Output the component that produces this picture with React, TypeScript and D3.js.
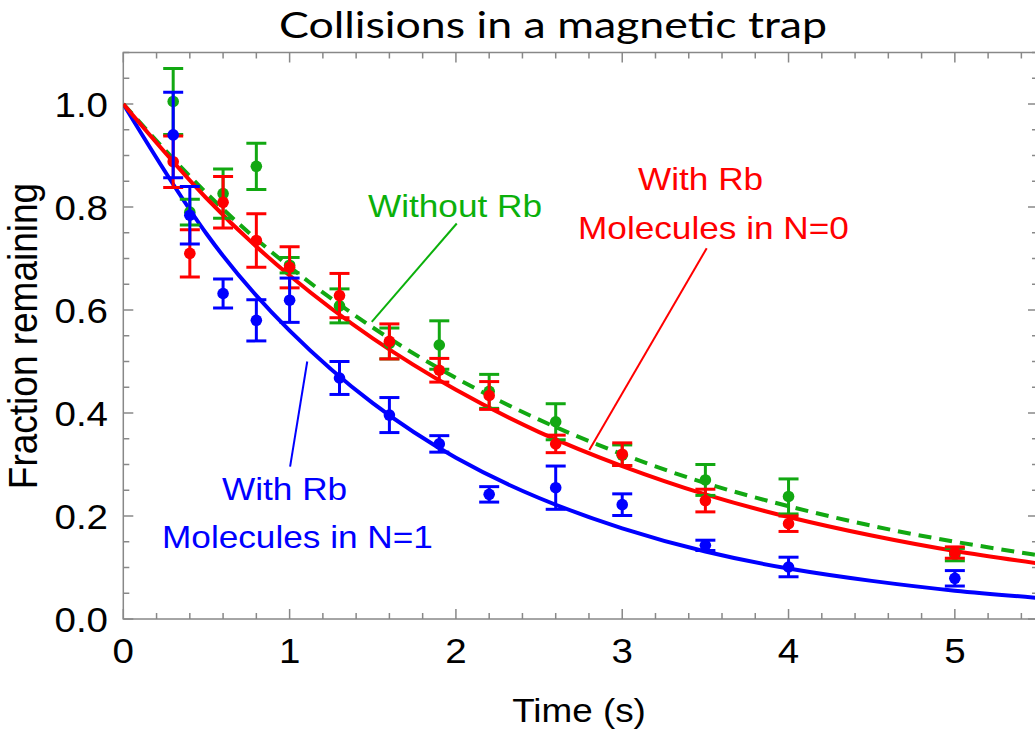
import React from "react";
import * as d3 from "d3";

// ---- data ----
const times = [0.3, 0.4, 0.6, 0.8, 1.0, 1.3, 1.6, 1.9, 2.2, 2.6, 3.0, 3.5, 4.0, 5.0];

const greenValues = [1.005, 0.79, 0.826, 0.879, 0.687, 0.608, 0.535, 0.532, 0.442, 0.383, 0.318, 0.27, 0.238, 0.125];
const greenErrors = [0.064, 0.025, 0.048, 0.045, 0.015, 0.033, 0.03, 0.047, 0.033, 0.035, 0.02, 0.03, 0.034, 0.012];

const redValues = [0.888, 0.71, 0.809, 0.735, 0.683, 0.628, 0.539, 0.483, 0.434, 0.34, 0.32, 0.23, 0.185, 0.129];
const redErrors = [0.05, 0.046, 0.05, 0.052, 0.04, 0.043, 0.034, 0.023, 0.027, 0.017, 0.022, 0.022, 0.015, 0.011];

const blueValues = [0.94, 0.784, 0.632, 0.58, 0.619, 0.468, 0.396, 0.34, 0.242, 0.255, 0.222, 0.143, 0.101, 0.079];
const blueErrors = [0.083, 0.056, 0.028, 0.04, 0.043, 0.032, 0.034, 0.016, 0.015, 0.042, 0.021, 0.01, 0.019, 0.015];

// fitted curves
const curveTimes = [0, 0.5, 1, 1.5, 2, 2.5, 3, 3.5, 4, 4.5, 5, 5.5];
const blueFit = [1, 0.748, 0.56, 0.419, 0.313, 0.235, 0.176, 0.131, 0.098, 0.074, 0.055, 0.041];
const greenFit = [1, 0.827, 0.684, 0.566, 0.468, 0.387, 0.32, 0.264, 0.219, 0.181, 0.15, 0.124];
const redFit = [1, 0.817, 0.667, 0.545, 0.445, 0.363, 0.297, 0.242, 0.198, 0.162, 0.132, 0.108];

const xMajorTicks = [0, 1, 2, 3, 4, 5];
const yMajorTicks = [0, 0.2, 0.4, 0.6, 0.8, 1.0];

const TITLE = "Collisions in a magnetic trap";
const X_LABEL = "Time (s)";
const Y_LABEL = "Fraction remaining";

const W = 1035;
const H = 733;
const SX = 1.1; // horizontal stretch of the original picture

const GREEN = "#12a812";
const GREEN_TXT = "#0bb00b";
const RED = "#ff0000";
const BLUE = "#0000ff";
const AXIS = "#888888";

const x = d3.scaleLinear().domain([0, 5.5]).range([123.3, 1038]);
const y = d3.scaleLinear().domain([0, 1.1]).range([619, 52.5]);

const FONT = "'Liberation Sans', Arial, sans-serif";

function STxt(props: {
  x: number;
  y: number;
  size: number;
  anchor?: string;
  fill?: string;
  family?: string;
  rotate?: number;
  length?: number;
  children: React.ReactNode;
}) {
  const { x: tx, y: ty, size, anchor = "middle", fill = "#000", family = FONT, rotate = 0, length } = props;
  const extra: any = {};
  if (length) {
    extra.textLength = length / SX;
    extra.lengthAdjust = "spacingAndGlyphs";
  }
  return (
    <text
      transform={`translate(${tx},${ty}) scale(${SX},1)${rotate ? ` rotate(${rotate})` : ""}`}
      fontSize={size}
      fontFamily={family}
      textAnchor={anchor}
      fill={fill}
      {...extra}
    >
      {props.children}
    </text>
  );
}

function ErrorSeries({ vals, errs, color }: { vals: number[]; errs: number[]; color: string }) {
  const cap = 10;
  return (
    <g>
      {times.map((t, i) => {
        const cx = x(t);
        const top = y(vals[i] + errs[i]);
        const bot = y(vals[i] - errs[i]);
        return (
          <g key={i}>
            <line x1={cx} x2={cx} y1={top} y2={bot} stroke={color} strokeWidth={3} />
            <line x1={cx - cap} x2={cx + cap} y1={top} y2={top} stroke={color} strokeWidth={3} />
            <line x1={cx - cap} x2={cx + cap} y1={bot} y2={bot} stroke={color} strokeWidth={3} />
            <circle cx={cx} cy={y(vals[i])} r={5.8} fill={color} />
          </g>
        );
      })}
    </g>
  );
}

export default function App() {
  const line = d3
    .line<number>()
    .x((_, i) => x(curveTimes[i]))
    .y((d) => y(d))
    .curve(d3.curveNatural);

  const xMinor = d3.range(0, 5.51, 0.2);
  const yMinor = d3.range(0, 1.101, 0.05);
  const x0 = x(0);
  const x1 = x(5.5);
  const y0 = y(0);
  const y1 = y(1.1);

  return (
    <svg
      width={W}
      height={H}
      style={{ position: "absolute", left: 0, top: 0, background: "#fff" }}
    >
      <defs>
        <clipPath id="plot">
          <rect x={x0} y={y1} width={x1 - x0} height={y0 - y1} />
        </clipPath>
      </defs>
      {/* frame */}
      <rect x={x0} y={y1} width={x1 - x0} height={y0 - y1} fill="none" stroke={AXIS} strokeWidth={1.5} />
      {/* ticks */}
      {xMinor.map((t, i) => {
        const major = xMajorTicks.some((m) => Math.abs(m - t) < 1e-6);
        const len = major ? 10 : 6;
        return (
          <g key={"xt" + i}>
            <line x1={x(t)} x2={x(t)} y1={y0} y2={y0 - len} stroke={AXIS} strokeWidth={1.5} />
            <line x1={x(t)} x2={x(t)} y1={y1} y2={y1 + len} stroke={AXIS} strokeWidth={1.5} />
          </g>
        );
      })}
      {yMinor.map((v, i) => {
        const major = yMajorTicks.some((m) => Math.abs(m - v) < 1e-6);
        const len = major ? 10 : 6;
        return (
          <g key={"yt" + i}>
            <line x1={x0} x2={x0 + len} y1={y(v)} y2={y(v)} stroke={AXIS} strokeWidth={1.5} />
            <line x1={x1} x2={x1 - len} y1={y(v)} y2={y(v)} stroke={AXIS} strokeWidth={1.5} />
          </g>
        );
      })}
      {/* tick labels */}
      {xMajorTicks.map((t) => (
        <STxt key={"xl" + t} x={x(t)} y={663} size={35}>
          {String(t)}
        </STxt>
      ))}
      {yMajorTicks.map((v) => (
        <STxt key={"yl" + v} x={108} y={y(v) + 12.5} size={35} anchor="end">
          {v.toFixed(1)}
        </STxt>
      ))}
      {/* axis labels */}
      <STxt x={579} y={722} size={33.5}>
        {X_LABEL}
      </STxt>
      <STxt x={37} y={336} size={37} rotate={-90}>
        {Y_LABEL}
      </STxt>
      {/* title */}
      <STxt x={553} y={38} size={37} family="Lato, 'Open Sans', sans-serif" length={548}>
        {TITLE}
      </STxt>

      <g clipPath="url(#plot)">
        <path d={line(blueFit) || ""} fill="none" stroke={BLUE} strokeWidth={4} />
        <path d={line(greenFit) || ""} fill="none" stroke={GREEN} strokeWidth={4} strokeDasharray="13,8" />
        <path d={line(redFit) || ""} fill="none" stroke={RED} strokeWidth={4} />
        <ErrorSeries vals={greenValues} errs={greenErrors} color={GREEN} />
        <ErrorSeries vals={redValues} errs={redErrors} color={RED} />
        <ErrorSeries vals={blueValues} errs={blueErrors} color={BLUE} />
      </g>

      {/* annotations */}
      <line x1={x(2.005)} y1={y(0.768)} x2={x(1.494)} y2={y(0.577)} stroke={GREEN_TXT} strokeWidth={2} />
      <line x1={x(3.508)} y1={y(0.72)} x2={x(2.802)} y2={y(0.328)} stroke={RED} strokeWidth={2} />
      <line x1={x(1.106)} y1={y(0.5)} x2={x(1.003)} y2={y(0.296)} stroke={BLUE} strokeWidth={2} />

      <STxt x={368} y={217} size={32} anchor="start" fill={GREEN_TXT}>
        Without Rb
      </STxt>
      <STxt x={638} y={190} size={32} anchor="start" fill={RED}>
        With Rb
      </STxt>
      <STxt x={578} y={239} size={32} anchor="start" fill={RED}>
        Molecules in N=0
      </STxt>
      <STxt x={222} y={500} size={32} anchor="start" fill={BLUE}>
        With Rb
      </STxt>
      <STxt x={162} y={548} size={32} anchor="start" fill={BLUE}>
        Molecules in N=1
      </STxt>
    </svg>
  );
}
